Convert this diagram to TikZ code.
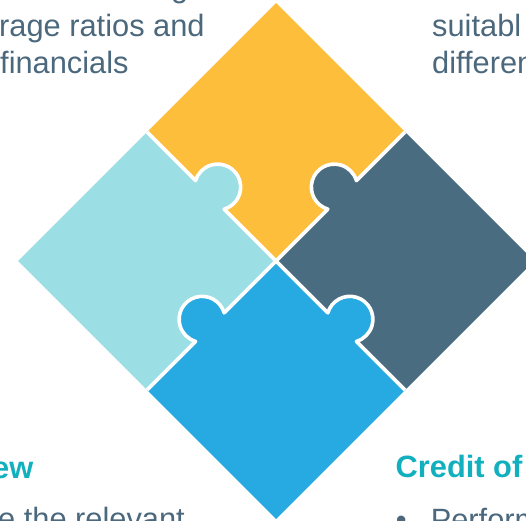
\documentclass[tikz,border=0pt]{standalone}
\usepackage{fontspec}
\setmainfont{Liberation Sans}
\definecolor{pzyel}{HTML}{FDBE3C}
\definecolor{pzgrey}{HTML}{4A6C80}
\definecolor{pzlight}{HTML}{9BDEE3}
\definecolor{pzblue}{HTML}{27A9E1}
\definecolor{txtc}{HTML}{4B687D}
\definecolor{tealc}{HTML}{12B0BE}
\newcommand\pzknob[2]{\begin{scope}[#1]\fill[#2] (93.5,11) circle[radius=23];\end{scope}}
\newcommand\pzseam[1]{\begin{scope}[#1]\draw[seam] (0,0) -- (73.3,0) arc[start angle=208.57, end angle=-28.57, radius=23] -- (182.43,0);\end{scope}}
\begin{document}
\begin{tikzpicture}[x=1pt,y=1pt,
  body/.style={anchor=base west, inner sep=0pt, text=txtc, font=\fontsize{30.8}{36}\selectfont},
  head/.style={anchor=base west, inner sep=0pt, text=tealc, font=\fontsize{30.8}{36}\selectfont\bfseries},
  seam/.style={draw=white, line width=3.6pt, line join=round}]
\useasboundingbox (0,0) rectangle (526,520);
\clip (0,0) rectangle (526,520);
\begin{scope}[shift={(276,259)}, rotate=45]
  \fill[pzyel]   (0,0) rectangle (182.43,182.43);
  \fill[pzgrey]  (0,0) rectangle (182.43,-182.43);
  \fill[pzblue]  (0,0) rectangle (-182.43,-182.43);
  \fill[pzlight] (0,0) rectangle (-182.43,182.43);
  % knobs
  \pzknob{rotate=0}{pzgrey}
  \pzknob{rotate=90,yscale=-1}{pzlight}
  \pzknob{rotate=-90}{pzblue}
  \pzknob{rotate=180,yscale=-1}{pzblue}
  % seams
  \pzseam{rotate=0}
  \pzseam{rotate=90,yscale=-1}
  \pzseam{rotate=-90}
  \pzseam{rotate=180,yscale=-1}
\end{scope}
% texts
\node[body] (tg) at (171,522) {g};
\node[body] (t1) at (-1,483.5) {rage ratios and};
\node[body] (t2) at (0,446) {financials};
\node[body] (t3) at (432,483) {suitabl};
\node[body] (t4) at (432,446.5) {differen};
\node[head] (h1) at (-8,42) {ew};
\node[body] (t5) at (-2,-9.5) {e the relevant};
\node[head] (h2) at (395.5,43) {Credit of};
\node[body] (b1) at (395.7,-10) {•};
\node[body] (t6) at (430.6,-10) {Perform};
\end{tikzpicture}
\end{document}
